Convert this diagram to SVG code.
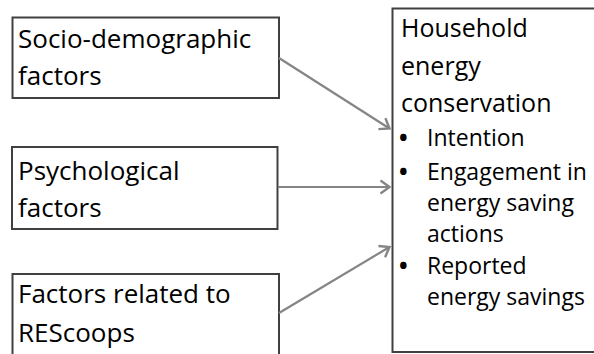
<svg xmlns="http://www.w3.org/2000/svg" width="594" height="354" viewBox="0 0 594 354">
  <style>
    .box { fill: #ffffff; stroke: #404040; stroke-width: 2; }
    .lbl { font-family: "Open Sans", "Noto Sans", sans-serif; font-size: 26px; fill: #000000; }
    .head { font-size: 25px; }
    .item { font-size: 23px; }
    .dot { font-size: 23px; font-weight: bold; }
    .conn { stroke: #858585; stroke-width: 2.2; fill: none; }
  </style>
  <defs>
    <marker id="arrow" markerUnits="userSpaceOnUse" markerWidth="20" markerHeight="20" refX="0" refY="0" viewBox="-12 -10 14 20" orient="auto">
      <path d="M-9,-6.5 L0,0 L-9,6.5" fill="none" stroke="#858585" stroke-width="2.4"/>
    </marker>
  </defs>
  <rect width="594" height="354" fill="#ffffff"/>

  <g id="node-socio">
    <rect class="box" x="12.5" y="17.5" width="266.5" height="80.5"/>
    <text class="lbl" x="18" y="48">Socio-demographic</text>
    <text class="lbl" x="18" y="85">factors</text>
  </g>

  <g id="node-psych">
    <rect class="box" x="12" y="147" width="265.5" height="82"/>
    <text class="lbl" x="18" y="180">Psychological</text>
    <text class="lbl" x="18" y="217">factors</text>
  </g>

  <g id="node-rescoops">
    <rect class="box" x="12.5" y="274" width="266.5" height="92"/>
    <text class="lbl" x="18" y="303">Factors related to</text>
    <text class="lbl" x="18" y="342">REScoops</text>
  </g>

  <g id="node-household">
    <rect class="box" x="392.5" y="8.5" width="220" height="343.5"/>
    <text class="lbl head" x="401" y="37">Household</text>
    <text class="lbl head" x="401" y="75">energy</text>
    <text class="lbl head" x="401" y="112">conservation</text>
    <text class="lbl dot" x="399" y="146">•</text>
    <text class="lbl item" x="427" y="146">Intention</text>
    <text class="lbl dot" x="399" y="180">•</text>
    <text class="lbl item" x="427" y="180">Engagement in</text>
    <text class="lbl item" x="427" y="211">energy saving</text>
    <text class="lbl item" x="427" y="242">actions</text>
    <text class="lbl dot" x="399" y="274">•</text>
    <text class="lbl item" x="427" y="274">Reported</text>
    <text class="lbl item" x="427" y="305">energy savings</text>
  </g>

  <g id="connectors">
    <line class="conn" x1="279" y1="58" x2="389.5" y2="128.5" marker-end="url(#arrow)"/>
    <line class="conn" x1="278" y1="187" x2="389.5" y2="187" marker-end="url(#arrow)"/>
    <line class="conn" x1="279" y1="313" x2="389.5" y2="247" marker-end="url(#arrow)"/>
  </g>
</svg>
